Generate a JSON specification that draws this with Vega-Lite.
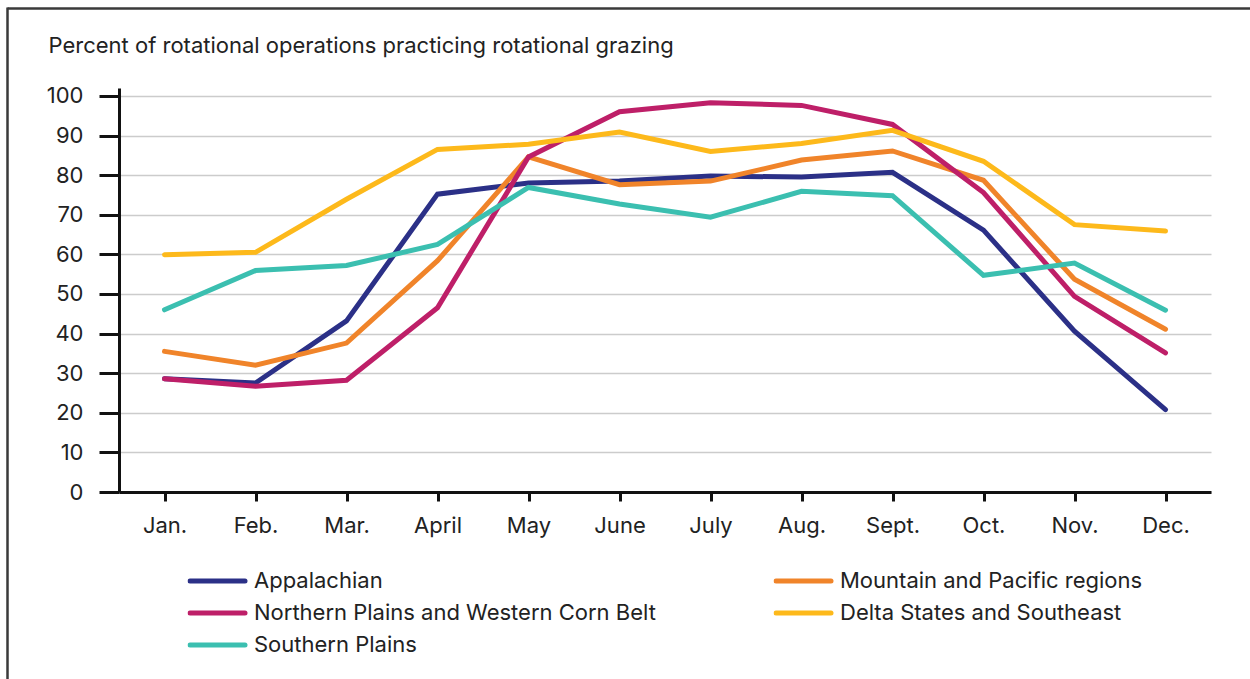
{
  "$schema": "https://vega.github.io/schema/vega-lite/v6.json",
  "width": 1092,
  "height": 404,
  "autosize": {"type": "none"},
  "padding": {"left": 119, "top": 88, "right": 39, "bottom": 187},
  "background": "white",
  "config": {
    "font": "Inter",
    "view": {"stroke": null},
    "axis": {"labelFont": "Inter", "titleFont": "Inter"},
    "legend": {"labelFont": "Inter"}
  },
  "data": {
    "values": [
      {"Month": "Jan.", "Region": "Appalachian", "Percent": 28.6},
      {"Month": "Feb.", "Region": "Appalachian", "Percent": 27.5},
      {"Month": "Mar.", "Region": "Appalachian", "Percent": 43.2},
      {"Month": "April", "Region": "Appalachian", "Percent": 75.2},
      {"Month": "May", "Region": "Appalachian", "Percent": 78.0},
      {"Month": "June", "Region": "Appalachian", "Percent": 78.5},
      {"Month": "July", "Region": "Appalachian", "Percent": 79.8},
      {"Month": "Aug.", "Region": "Appalachian", "Percent": 79.5},
      {"Month": "Sept.", "Region": "Appalachian", "Percent": 80.7},
      {"Month": "Oct.", "Region": "Appalachian", "Percent": 66.1},
      {"Month": "Nov.", "Region": "Appalachian", "Percent": 40.6},
      {"Month": "Dec.", "Region": "Appalachian", "Percent": 20.8},
      {"Month": "Jan.", "Region": "Mountain and Pacific regions", "Percent": 35.5},
      {"Month": "Feb.", "Region": "Mountain and Pacific regions", "Percent": 32.0},
      {"Month": "Mar.", "Region": "Mountain and Pacific regions", "Percent": 37.6},
      {"Month": "April", "Region": "Mountain and Pacific regions", "Percent": 58.4},
      {"Month": "May", "Region": "Mountain and Pacific regions", "Percent": 84.6},
      {"Month": "June", "Region": "Mountain and Pacific regions", "Percent": 77.6},
      {"Month": "July", "Region": "Mountain and Pacific regions", "Percent": 78.5},
      {"Month": "Aug.", "Region": "Mountain and Pacific regions", "Percent": 83.8},
      {"Month": "Sept.", "Region": "Mountain and Pacific regions", "Percent": 86.1},
      {"Month": "Oct.", "Region": "Mountain and Pacific regions", "Percent": 78.7},
      {"Month": "Nov.", "Region": "Mountain and Pacific regions", "Percent": 53.7},
      {"Month": "Dec.", "Region": "Mountain and Pacific regions", "Percent": 41.1},
      {"Month": "Jan.", "Region": "Northern Plains and Western Corn Belt", "Percent": 28.6},
      {"Month": "Feb.", "Region": "Northern Plains and Western Corn Belt", "Percent": 26.7},
      {"Month": "Mar.", "Region": "Northern Plains and Western Corn Belt", "Percent": 28.2},
      {"Month": "April", "Region": "Northern Plains and Western Corn Belt", "Percent": 46.5},
      {"Month": "May", "Region": "Northern Plains and Western Corn Belt", "Percent": 84.6},
      {"Month": "June", "Region": "Northern Plains and Western Corn Belt", "Percent": 96.0},
      {"Month": "July", "Region": "Northern Plains and Western Corn Belt", "Percent": 98.3},
      {"Month": "Aug.", "Region": "Northern Plains and Western Corn Belt", "Percent": 97.6},
      {"Month": "Sept.", "Region": "Northern Plains and Western Corn Belt", "Percent": 92.8},
      {"Month": "Oct.", "Region": "Northern Plains and Western Corn Belt", "Percent": 75.6},
      {"Month": "Nov.", "Region": "Northern Plains and Western Corn Belt", "Percent": 49.4},
      {"Month": "Dec.", "Region": "Northern Plains and Western Corn Belt", "Percent": 35.1},
      {"Month": "Jan.", "Region": "Delta States and Southeast", "Percent": 59.9},
      {"Month": "Feb.", "Region": "Delta States and Southeast", "Percent": 60.5},
      {"Month": "Mar.", "Region": "Delta States and Southeast", "Percent": 73.9},
      {"Month": "April", "Region": "Delta States and Southeast", "Percent": 86.5},
      {"Month": "May", "Region": "Delta States and Southeast", "Percent": 87.8},
      {"Month": "June", "Region": "Delta States and Southeast", "Percent": 90.9},
      {"Month": "July", "Region": "Delta States and Southeast", "Percent": 86.0},
      {"Month": "Aug.", "Region": "Delta States and Southeast", "Percent": 88.0},
      {"Month": "Sept.", "Region": "Delta States and Southeast", "Percent": 91.3},
      {"Month": "Oct.", "Region": "Delta States and Southeast", "Percent": 83.5},
      {"Month": "Nov.", "Region": "Delta States and Southeast", "Percent": 67.5},
      {"Month": "Dec.", "Region": "Delta States and Southeast", "Percent": 65.9},
      {"Month": "Jan.", "Region": "Southern Plains", "Percent": 46.0},
      {"Month": "Feb.", "Region": "Southern Plains", "Percent": 55.9},
      {"Month": "Mar.", "Region": "Southern Plains", "Percent": 57.2},
      {"Month": "April", "Region": "Southern Plains", "Percent": 62.5},
      {"Month": "May", "Region": "Southern Plains", "Percent": 76.9},
      {"Month": "June", "Region": "Southern Plains", "Percent": 72.7},
      {"Month": "July", "Region": "Southern Plains", "Percent": 69.4},
      {"Month": "Aug.", "Region": "Southern Plains", "Percent": 75.9},
      {"Month": "Sept.", "Region": "Southern Plains", "Percent": 74.8},
      {"Month": "Oct.", "Region": "Southern Plains", "Percent": 54.7},
      {"Month": "Nov.", "Region": "Southern Plains", "Percent": 57.8},
      {"Month": "Dec.", "Region": "Southern Plains", "Percent": 45.9}
    ]
  },
  "layer": [
    {
      "mark": {"type": "point", "opacity": 0},
      "encoding": {
        "x": {
          "field": "Percent", "type": "quantitative",
          "scale": {"domain": [0, 100], "range": [-112, 1145], "nice": false, "zero": false},
          "axis": {"orient": "top", "offset": 80, "domainColor": "#3a3a3a", "domainWidth": 2.5, "ticks": false, "labels": false, "grid": false, "title": null}
        },
        "y": {
          "field": "Percent", "type": "quantitative",
          "scale": {"domain": [0, 100], "range": [600, -81], "nice": false, "zero": false},
          "axis": {"orient": "left", "offset": 112, "domainColor": "#3a3a3a", "domainWidth": 2.5, "ticks": false, "labels": false, "grid": false, "title": null}
        }
      }
    },
    {
      "mark": {"type": "line", "strokeWidth": 5, "strokeCap": "round"},
      "encoding": {
        "x": {
          "field": "Month", "type": "ordinal",
          "sort": ["Jan.", "Feb.", "Mar.", "April", "May", "June", "July", "Aug.", "Sept.", "Oct.", "Nov.", "Dec."],
          "scale": {"type": "point", "padding": 0.5},
          "axis": {
            "orient": "bottom", "title": null, "grid": false,
            "domainColor": "#111", "domainWidth": 3,
            "tickColor": "#111", "tickWidth": 3, "tickSize": 9,
            "labelFontSize": 22, "labelColor": "#222", "labelPadding": 14, "labelAngle": 0
          }
        },
        "y": {
          "field": "Percent", "type": "quantitative",
          "scale": {"domain": [0, 102], "nice": false},
          "axis": {
            "orient": "left",
            "values": [0, 10, 20, 30, 40, 50, 60, 70, 80, 90, 100],
            "domainColor": "#111", "domainWidth": 3,
            "tickColor": "#111", "tickWidth": 3, "tickSize": 20,
            "labelFontSize": 22, "labelColor": "#222", "labelPadding": 16,
            "grid": true, "gridColor": "#cccccc", "gridWidth": 1.5,
            "title": "Percent of rotational operations practicing rotational grazing",
            "titleAngle": 0, "titleAlign": "left", "titleBaseline": "alphabetic",
            "titleX": -71, "titleY": -36, "titleFontSize": 22, "titleFontWeight": "normal", "titleColor": "#222"
          }
        },
        "color": {
          "field": "Region", "type": "nominal",
          "scale": {
            "domain": ["Appalachian", "Mountain and Pacific regions", "Northern Plains and Western Corn Belt", "Delta States and Southeast", "Southern Plains"],
            "range": ["#2b3087", "#f0842a", "#be1f68", "#fdb91b", "#3bbfb0"]
          },
          "legend": {
            "orient": "none", "legendX": 68.5, "legendY": 482, "direction": "horizontal",
            "title": null, "columns": 2, "columnPadding": 117, "rowPadding": 10,
            "padding": 0, "clipHeight": 22,
            "symbolType": "stroke", "symbolSize": 3025, "symbolStrokeWidth": 5,
            "labelFontSize": 22, "labelColor": "#222", "labelOffset": 6.5, "labelLimit": 700,
            "encode": {"symbols": {"update": {"strokeCap": {"value": "round"}}}}
          }
        }
      }
    }
  ],
  "resolve": {"scale": {"x": "independent", "y": "independent"}, "axis": {"x": "independent", "y": "independent"}}
}
